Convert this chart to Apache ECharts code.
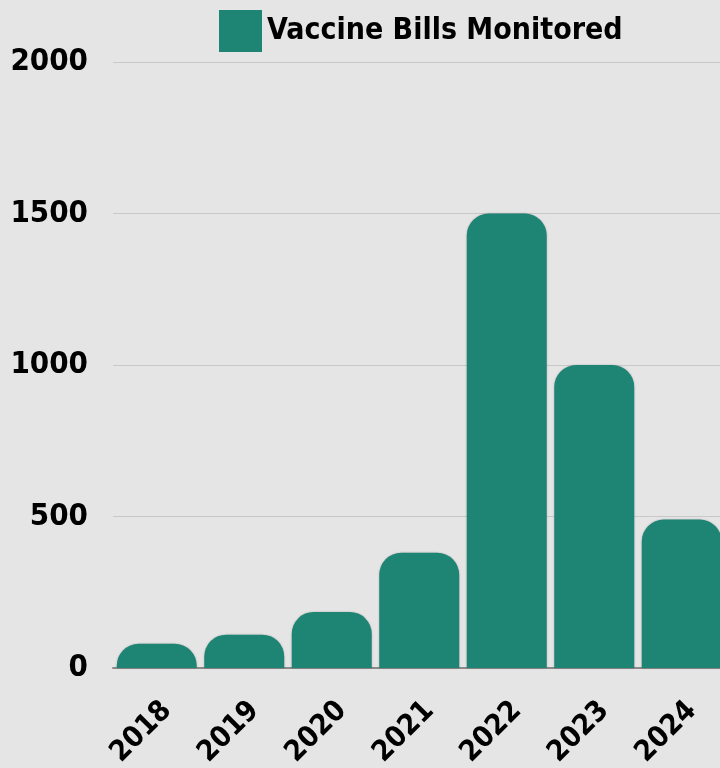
<!DOCTYPE html>
<html><head><meta charset="utf-8">
<script src="https://cdn.jsdelivr.net/npm/echarts@6/dist/echarts.min.js"></script>
<style>html,body{margin:0;padding:0;background:#e5e5e5;}#c{width:720px;height:768px;}</style>
</head><body><div id="c"></div>
<script>
const categories = ['2018','2019','2020','2021','2022','2023','2024'];
const seriesName = 'Vaccine Bills Monitored';
const values = [80, 110, 185, 380, 1500, 1000, 490];
const yTicks = [0, 500, 1000, 1500, 2000];

const FONT = '"DejaVu Sans Condensed", "Liberation Sans Narrow", sans-serif';
const chart = echarts.init(document.getElementById('c'));
chart.setOption({
  backgroundColor: '#e5e5e5',
  animation: false,
  legend: {
    data: [{name: seriesName, icon: 'rect'}],
    left: 214, top: 5,
    itemWidth: 43, itemHeight: 42,
    itemGap: 10,
    textStyle: {fontFamily: FONT, fontWeight: 'bold', fontSize: 30, color: '#000'}
  },
  grid: {left: 113, right: -5.5, top: 62, bottom: 100, containLabel: false, outerBoundsMode: 'none'},
  xAxis: {
    type: 'category', data: categories,
    axisLine: {lineStyle: {color: '#8a8a8a', width: 2}},
    axisTick: {show: false},
    axisLabel: {rotate: 45, margin: 28, verticalAlign: 'top', fontFamily: FONT, fontWeight: 'bold', fontSize: 29, color: '#000'}
  },
  yAxis: {
    type: 'value', min: yTicks[0], max: yTicks[yTicks.length-1], interval: 500,
    axisLine: {show: false}, axisTick: {show: false},
    splitLine: {lineStyle: {color: '#c8c8c8', width: 1}},
    axisLabel: {margin: 25, formatter: v => String(v), fontFamily: FONT, fontWeight: 'bold', fontSize: 31, color: '#000'}
  },
  series: [{
    name: seriesName, type: 'bar', data: values,
    barCategoryGap: '8.6%',
    itemStyle: {color: '#1e8474', borderRadius: [22,22,0,0], shadowColor: 'rgba(0,0,0,0.25)', shadowBlur: 2}
  }]
});
</script></body></html>
